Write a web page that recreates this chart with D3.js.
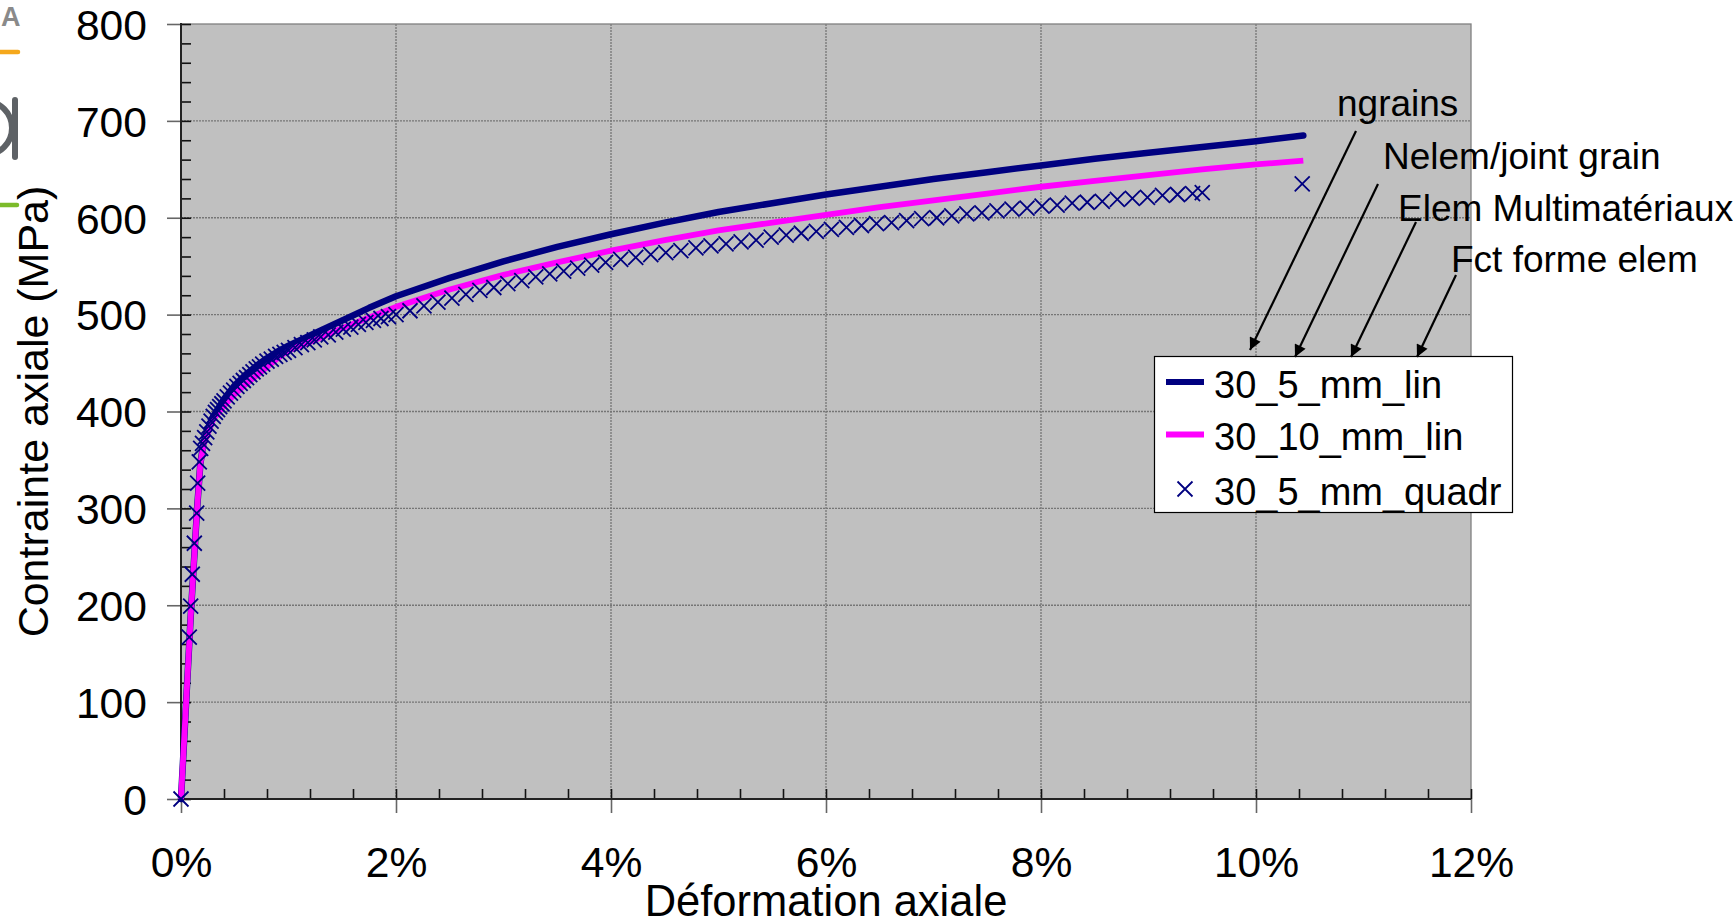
<!DOCTYPE html>
<html>
<head>
<meta charset="utf-8">
<script src="https://cdn.jsdelivr.net/npm/d3@7"></script>
<style>
  html, body { margin: 0; padding: 0; background: #ffffff; }
  svg { display: block; font-family: "Liberation Sans", Arial, Helvetica, sans-serif; }
</style>
</head>
<body>
<svg id="chart" width="1733" height="922"></svg>
<script>
// Axial strain (%) and axial stress (MPa) for the three simulations.
const linStrain5 = [0, 0.09, 0.15, 0.18, 0.21, 0.25, 0.3, 0.4, 0.5, 0.6, 0.7, 0.8, 0.9, 1.0, 1.25, 1.5, 1.75, 2.0,
  2.5, 3.0, 3.5, 4.0, 4.5, 5.0, 5.5, 6.0, 6.5, 7.0, 7.5, 8.0, 8.5, 9.0, 9.5, 10.0, 10.44];
const linStress5 = [0, 188, 300, 346, 368, 382, 395, 413, 427, 438, 447, 455, 462, 468, 481, 494, 507, 519,
  538, 555, 570, 583, 595, 606, 615, 624, 632, 640, 647, 654, 661, 667, 673, 679, 685];

const linStrain10 = [0, 0.09, 0.15, 0.18, 0.21, 0.25, 0.3, 0.4, 0.5, 0.6, 0.7, 0.8, 0.9, 1.0, 1.25, 1.5, 1.75, 2.0,
  2.5, 3.0, 3.5, 4.0, 4.5, 5.0, 5.5, 6.0, 6.5, 7.0, 7.5, 8.0, 8.5, 9.0, 9.5, 10.0, 10.44];
const linStress10 = [0, 188, 300, 346, 366, 378, 392, 406, 418, 428, 437, 446, 455, 463, 474, 486, 497, 508,
  526, 541, 554, 566, 577, 587, 595, 603, 611, 618, 625, 632, 638, 644, 650, 655, 659];

const quadStrain5 = [0, 0.077, 0.09, 0.105, 0.124, 0.146, 0.155, 0.17, 0.183,
  0.20, 0.22, 0.24, 0.26, 0.28, 0.30, 0.32, 0.34, 0.36, 0.38, 0.40, 0.43, 0.46, 0.49, 0.52, 0.55, 0.58,
  0.61, 0.64, 0.67, 0.70, 0.73, 0.76, 0.80, 0.84, 0.88, 0.92, 0.96, 1.00,
  1.06, 1.12, 1.18, 1.24, 1.30, 1.37, 1.44, 1.51, 1.58, 1.65, 1.72, 1.79, 1.86, 1.93,
  2.00, 2.13, 2.26, 2.39, 2.52, 2.65, 2.78, 2.91, 3.04, 3.17, 3.30, 3.43, 3.56, 3.69, 3.82, 3.95,
  4.09, 4.23, 4.37, 4.51, 4.65, 4.79, 4.93, 5.07, 5.21, 5.35, 5.49, 5.63, 5.77, 5.91,
  6.05, 6.19, 6.33, 6.47, 6.61, 6.75, 6.89, 7.03, 7.17, 7.31, 7.45, 7.59, 7.73, 7.87,
  8.01, 8.15, 8.29, 8.43, 8.57, 8.71, 8.85, 8.99, 9.13, 9.27, 9.41, 9.50, 10.43];
const quadStress5 = [0, 167, 199, 232, 264, 295, 326, 348, 362,
  367, 373, 379, 385, 390, 395, 399, 402, 405, 408, 411, 415, 419, 422, 426, 429, 432,
  435, 438, 441, 444, 446, 449, 452, 454, 457, 459, 461, 463,
  466, 469, 471, 474, 477, 479, 482, 485, 487, 490, 492, 494, 496, 498,
  500, 504, 509, 513, 517, 521, 525, 528, 532, 535, 539, 542, 545, 548, 551, 554,
  557, 559, 562, 564, 566, 569, 571, 573, 575, 577, 580, 582, 584, 586,
  588, 590, 592, 594, 595, 597, 599, 600, 602, 604, 605, 607, 609, 610,
  612, 613, 615, 616, 617, 619, 620, 621, 623, 624, 625, 626, 635];

const xTicks = [0, 2, 4, 6, 8, 10, 12];
const yTicks = [0, 100, 200, 300, 400, 500, 600, 700, 800];
const seriesNames = ["30_5_mm_lin", "30_10_mm_lin", "30_5_mm_quadr"];
const noteLabels = ["ngrains", "Nelem/joint grain", "Elem Multimatériaux", "Fct forme elem"];

const navy = "#000080", magenta = "#ff00ff";
const svg = d3.select("#chart");
const L = 181, R = 1471, T = 24, B = 799;

const x = d3.scaleLinear().domain([0, 12]).range([L, R]);
const y = d3.scaleLinear().domain([0, 800]).range([B, T]);

// Corner fragments of a logo on the page edge
const logo = svg.append("g");
logo.append("text").attr("x", 1).attr("y", 26).attr("font-size", 27).attr("font-weight", "bold")
  .attr("fill", "#8a8a8a").text("A");
logo.append("line").attr("x1", -4).attr("x2", 18).attr("y1", 52).attr("y2", 52)
  .attr("stroke", "#f5a81c").attr("stroke-width", 4.5).attr("stroke-linecap", "round");
logo.append("circle").attr("cx", -15).attr("cy", 128).attr("r", 27)
  .attr("fill", "none").attr("stroke", "#5e6266").attr("stroke-width", 6);
logo.append("line").attr("x1", 15).attr("x2", 15).attr("y1", 100).attr("y2", 157)
  .attr("stroke", "#5e6266").attr("stroke-width", 6).attr("stroke-linecap", "round");
logo.append("line").attr("x1", -4).attr("x2", 17).attr("y1", 205).attr("y2", 205)
  .attr("stroke", "#7cbb2a").attr("stroke-width", 4.5).attr("stroke-linecap", "round");

// Plot area
svg.append("rect").attr("x", L).attr("y", T).attr("width", R - L).attr("height", B - T)
  .attr("fill", "#c0c0c0");

// Grid
const grid = svg.append("g").attr("stroke", "#767676").attr("stroke-width", 1.3)
  .attr("stroke-dasharray", "2,1");
grid.selectAll(".gx").data(xTicks.filter(d => d > 0 && d < 12)).join("line")
  .attr("x1", d => x(d)).attr("x2", d => x(d)).attr("y1", T).attr("y2", B);
grid.selectAll(".gy").data(yTicks.filter(d => d > 0 && d < 800)).join("line")
  .attr("y1", d => y(d)).attr("y2", d => y(d)).attr("x1", L).attr("x2", R);

svg.append("rect").attr("x", L).attr("y", T).attr("width", R - L).attr("height", B - T)
  .attr("fill", "none").attr("stroke", "#808080").attr("stroke-width", 1.3);

// Minor ticks (inside)
const yMinor = svg.append("g").attr("transform", `translate(${L},0)`)
  .call(d3.axisLeft(y).tickValues(d3.range(0, 41).map(i => i * 20)).tickSize(-10).tickFormat(""));
const xMinor = svg.append("g").attr("transform", `translate(0,${B})`)
  .call(d3.axisBottom(x).tickValues(d3.range(0, 31).map(i => i * 0.4)).tickSize(-10).tickFormat(""));
[yMinor, xMinor].forEach(g => {
  g.select(".domain").remove();
  g.selectAll("line").attr("stroke", "#111").attr("stroke-width", 1.6);
});

// Major ticks and labels
const yAxis = svg.append("g").attr("transform", `translate(${L},0)`)
  .call(d3.axisLeft(y).tickValues(yTicks).tickSize(14));
const xAxis = svg.append("g").attr("transform", `translate(0,${B})`)
  .call(d3.axisBottom(x).tickValues(xTicks).tickSize(14).tickFormat(d => d + "%"));
[yAxis, xAxis].forEach(g => {
  g.select(".domain").remove();
  g.selectAll("line").attr("stroke", "#666").attr("stroke-width", 1.6);
  g.selectAll("text").attr("font-size", 42.6).attr("fill", "#000")
    .attr("font-family", "'Liberation Sans', Arial, sans-serif");
});
yAxis.selectAll("text").attr("x", -34).attr("dy", "0.36em");
xAxis.selectAll("text").attr("y", 78).attr("dy", null);

// Axis lines
svg.append("line").attr("x1", L).attr("x2", L).attr("y1", T - 1).attr("y2", B + 1)
  .attr("stroke", "#222").attr("stroke-width", 2);
svg.append("line").attr("x1", L - 1).attr("x2", R).attr("y1", B).attr("y2", B)
  .attr("stroke", "#222").attr("stroke-width", 2);

// Axis titles
svg.append("text").attr("x", (L + R) / 2).attr("y", 916).attr("text-anchor", "middle")
  .attr("font-size", 43.5).text("Déformation axiale");
svg.append("text").attr("transform", `translate(48,${(T + B) / 2}) rotate(-90)`)
  .attr("text-anchor", "middle").attr("font-size", 43).text("Contrainte axiale (MPa)");

// Series
const line = d3.line().x(d => x(d[0])).y(d => y(d[1]));
const lin5 = linStrain5.map((s, i) => [s, linStress5[i]]);
const lin10 = linStrain10.map((s, i) => [s, linStress10[i]]);
const quad5 = quadStrain5.map((s, i) => [s, quadStress5[i]]);

svg.append("path").datum(lin5).attr("d", line).attr("fill", "none")
  .attr("stroke", navy).attr("stroke-width", 6.5).attr("stroke-linecap", "round").attr("stroke-linejoin", "round");
svg.append("path").datum(lin10).attr("d", line).attr("fill", "none")
  .attr("stroke", magenta).attr("stroke-width", 5.8).attr("stroke-linejoin", "round");

const cross = "M-7.5,-7.5L7.5,7.5M-7.5,7.5L7.5,-7.5";
svg.append("g").selectAll("path").data(quad5).join("path")
  .attr("transform", d => `translate(${x(d[0])},${y(d[1])})`)
  .attr("d", cross).attr("fill", "none").attr("stroke", navy).attr("stroke-width", 1.8);

// Legend
const lg = svg.append("g");
lg.append("rect").attr("x", 1154.5).attr("y", 356.5).attr("width", 358).attr("height", 156)
  .attr("fill", "#fff").attr("stroke", "#000").attr("stroke-width", 1.2);
const rowsY = [382, 434.5, 489];
lg.append("line").attr("x1", 1166).attr("x2", 1204).attr("y1", rowsY[0]).attr("y2", rowsY[0])
  .attr("stroke", navy).attr("stroke-width", 6);
lg.append("line").attr("x1", 1166).attr("x2", 1204).attr("y1", rowsY[1]).attr("y2", rowsY[1])
  .attr("stroke", magenta).attr("stroke-width", 6);
lg.append("path").attr("transform", `translate(1185,${rowsY[2]})`).attr("d", cross)
  .attr("stroke", navy).attr("stroke-width", 1.8).attr("fill", "none");
lg.selectAll(".lt").data(seriesNames).join("text")
  .attr("x", 1214).attr("y", (d, i) => rowsY[i] + 15.5).attr("font-size", 38).text(d => d);

// Annotations with arrows
const defs = svg.append("defs");
defs.append("marker").attr("id", "head").attr("viewBox", "0 0 10 10")
  .attr("refX", 10).attr("refY", 5).attr("markerWidth", 17).attr("markerHeight", 12)
  .attr("markerUnits", "userSpaceOnUse").attr("orient", "auto")
  .append("path").attr("d", "M0,0L10,5L0,10z").attr("fill", "#000");

const notePos = [[1337, 116], [1383, 169], [1398, 221], [1451, 272]];
const arrows = [
  [1356, 131, 1250, 350],
  [1378, 184, 1295, 357],
  [1416, 222, 1351, 357],
  [1456, 275, 1417, 357]
];
svg.selectAll(".note").data(noteLabels).join("text")
  .attr("x", (d, i) => notePos[i][0]).attr("y", (d, i) => notePos[i][1])
  .attr("font-size", 37).text(d => d);
svg.selectAll(".arrow").data(arrows).join("line")
  .attr("x1", d => d[0]).attr("y1", d => d[1]).attr("x2", d => d[2]).attr("y2", d => d[3])
  .attr("stroke", "#000").attr("stroke-width", 2.2).attr("marker-end", "url(#head)");
</script>
</body>
</html>
